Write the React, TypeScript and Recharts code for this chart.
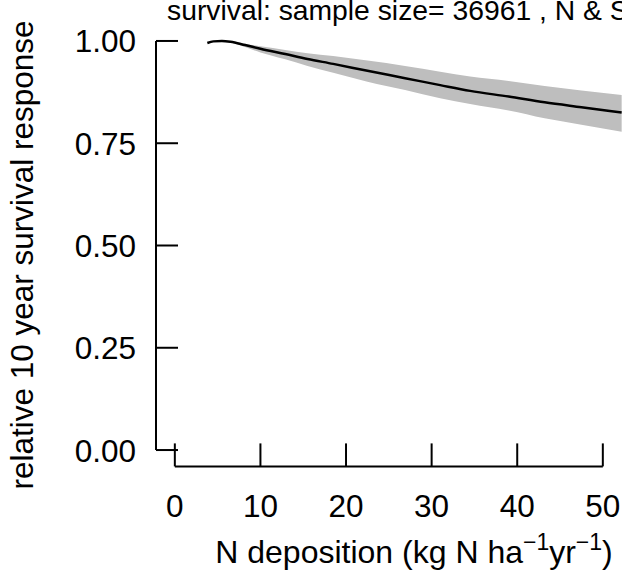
import React from 'react';
import { ComposedChart, Line, Area, XAxis, YAxis, ReferenceLine, Customized } from 'recharts';

const nDeposition = [3.8, 4.5, 5.5, 6.5, 8.2, 10, 12.9, 15.5, 18.5, 22.5, 26.9, 31, 34.5, 39, 43.2, 47.5, 52.2];
const fitValues = [0.995, 0.999, 1.0, 0.998, 0.99, 0.981, 0.968, 0.956, 0.944, 0.927, 0.909, 0.892, 0.878, 0.864, 0.85, 0.838, 0.825];
const lowerValues = [0.994, 0.998, 1.0, 0.996, 0.985, 0.972, 0.955, 0.939, 0.922, 0.9, 0.88, 0.86, 0.846, 0.83, 0.811, 0.795, 0.778];
const upperValues = [0.996, 1.0, 1.0, 0.999, 0.993, 0.987, 0.978, 0.97, 0.963, 0.952, 0.939, 0.925, 0.913, 0.902, 0.89, 0.879, 0.868];

const xTicks = [0, 10, 20, 30, 40, 50];
const yTicks = [0, 0.25, 0.5, 0.75, 1];

const titleText = 'survival: sample size= 36961 , N & S deposition';
const yLabelText = 'relative 10 year survival response';

const data = nDeposition.map((x, i) => ({
  x,
  fit: fitValues[i],
  band: [lowerValues[i], upperValues[i]],
}));

const FONT = "'Liberation Sans', Arial, Helvetica, sans-serif";
const FS = 31.5;

const XTick = (props: any) => {
  const { x, y, payload } = props;
  return (
    <g>
      <line x1={x} y1={y} x2={x} y2={y - 23} stroke="#000" strokeWidth={2} />
      <text x={x} y={y + 51} textAnchor="middle" fontSize={FS} fontFamily={FONT} fill="#000">
        {payload.value}
      </text>
    </g>
  );
};

const YTick = (props: any) => {
  const { x, y, payload } = props;
  return (
    <g>
      <line x1={x} y1={y} x2={x + 22} y2={y} stroke="#000" strokeWidth={2} />
      <text x={x - 20} y={y + 11.5} textAnchor="end" fontSize={FS} fontFamily={FONT} fill="#000">
        {Number(payload.value).toFixed(2)}
      </text>
    </g>
  );
};

const Title = () => (
  <text x={167} y={20} fontSize={28.3} fontFamily={FONT} fill="#000">
    {titleText}
  </text>
);

const XLabel = () => (
  <text x={414} y={563} textAnchor="middle" fontSize={32} fontFamily={FONT} fill="#000">
    N deposition (kg N ha
    <tspan dy={-13} fontSize={23}>−1</tspan>
    <tspan dy={13}>yr</tspan>
    <tspan dy={-13} fontSize={23}>−1</tspan>
    <tspan dy={13}>)</tspan>
  </text>
);

const YLabel = () => (
  <text
    x={0}
    y={0}
    transform="translate(33,255) rotate(-90)"
    textAnchor="middle"
    fontSize={FS}
    fontFamily={FONT}
    fill="#000"
  >
    {yLabelText}
  </text>
);

export default function App() {
  return (
    <div style={{ position: 'absolute', left: 0, top: 0, width: 622, height: 573, background: '#fff' }}>
      <ComposedChart
        width={622}
        height={573}
        data={data}
        margin={{ top: 24.6, right: 0, bottom: 0, left: 0 }}
        style={{ fontFamily: FONT }}
      >
        <XAxis
          dataKey="x"
          type="number"
          domain={[-2.2, 52.24]}
          allowDataOverflow
          ticks={xTicks}
          tick={<XTick />}
          tickLine={false}
          axisLine={false}
          tickSize={0}
          tickMargin={0}
          height={106.6}
          interval={0}
        />
        <YAxis
          type="number"
          domain={[-0.04, 1.04]}
          allowDataOverflow
          ticks={yTicks}
          tick={<YTick />}
          tickLine={false}
          axisLine={false}
          tickSize={0}
          tickMargin={0}
          width={156}
          interval={0}
        />
        <Area
          dataKey="band"
          type="monotone"
          fill="#bebebe"
          fillOpacity={1}
          stroke="none"
          isAnimationActive={false}
        />
        <Line
          dataKey="fit"
          type="monotone"
          stroke="#000"
          strokeWidth={2.5}
          dot={false}
          activeDot={false}
          isAnimationActive={false}
        />
        <ReferenceLine
          segment={[{ x: 0, y: -0.04 }, { x: 50, y: -0.04 }]}
          stroke="#000"
          strokeWidth={2}
          ifOverflow="visible"
        />
        <ReferenceLine
          segment={[{ x: -2.2, y: 0 }, { x: -2.2, y: 1 }]}
          stroke="#000"
          strokeWidth={2}
          ifOverflow="visible"
        />
        <Customized component={Title} />
        <Customized component={XLabel} />
        <Customized component={YLabel} />
      </ComposedChart>
    </div>
  );
}
